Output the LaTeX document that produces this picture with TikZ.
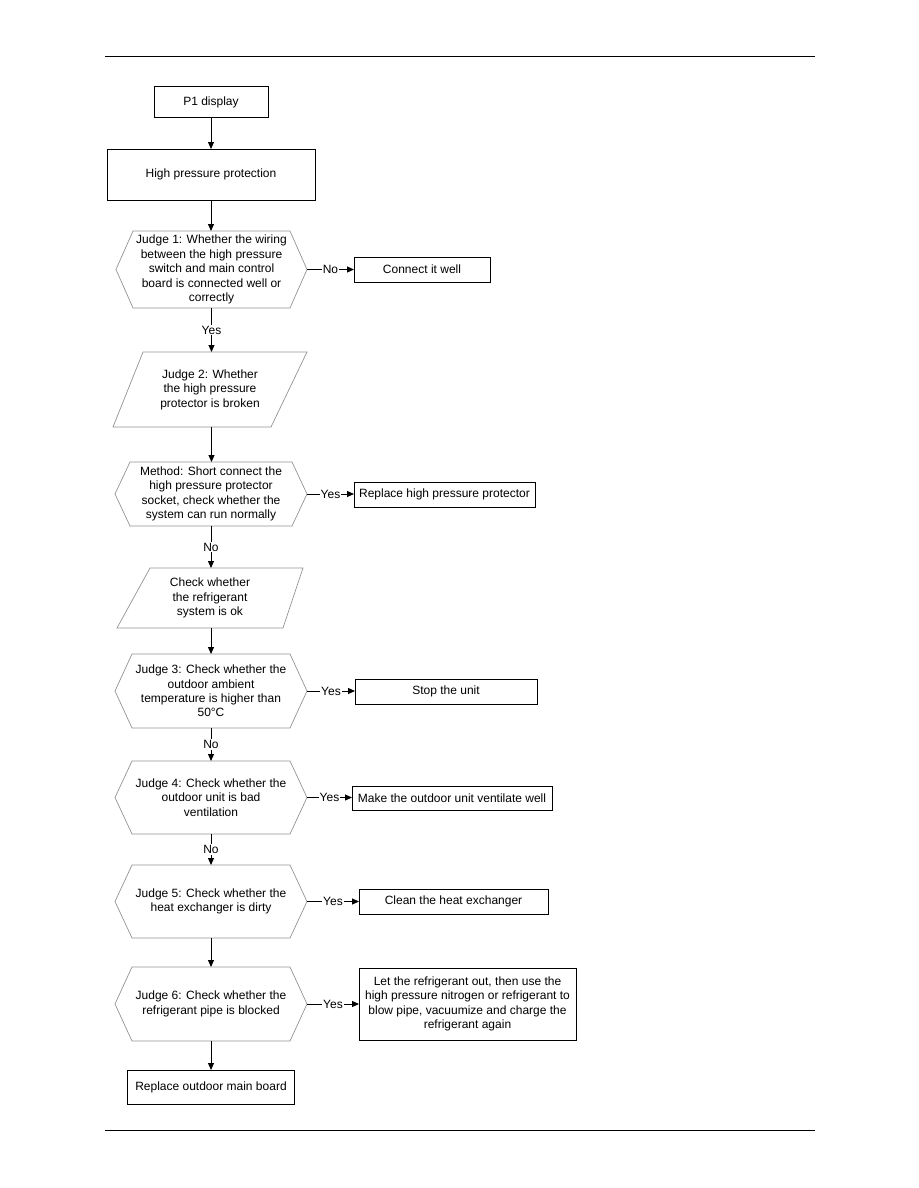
\documentclass[tikz,border=0pt]{standalone}
\usepackage{fontspec}
\setmainfont{Liberation Sans}
\usepackage{tikz}
\usetikzlibrary{positioning,arrows.meta,calc}

\begin{document}
\begin{tikzpicture}[x=1pt,y=-1pt,
  boite/.style={draw=black,line width=1pt,outer sep=0pt,inner sep=2pt,align=center,font=\fontsize{12}{14.4}\selectfont},
  forme/.style={outer sep=0pt,inner sep=0pt,align=center,font=\fontsize{12}{14.4}\selectfont},
  contour/.style={draw=gray!85,line width=0.7pt},
  fl/.style={-{Triangle[length=7pt,width=6pt]},line width=1pt},
  rep/.style={fill=white,inner sep=1pt,font=\fontsize{12}{14.4}\selectfont}
]
\useasboundingbox (0,0) rectangle (918,1188);
% filets de page
\draw[line width=1pt] (105,57) -- (815,57);
\draw[line width=1pt] (105,1130) -- (815,1130);
% colonne principale
\node[boite,minimum width=114,minimum height=31] (p1) at (211,102.5) {P1 display};
\node[boite,minimum width=208,minimum height=51] (hp) at (211,174.5) {High pressure protection};
\node[forme,minimum width=191,minimum height=77] (j1) at (211.5,269.5) {Judge 1: Whether the wiring\\between the high pressure\\switch and main control\\board is connected well or\\correctly};
\node[forme,minimum width=194,minimum height=75] (j2) at (210,389.5) {Judge 2: Whether\\the high pressure\\protector is broken};
\node[forme,minimum width=192,minimum height=64] (mt) at (211,494) {Method: Short connect the\\high pressure protector\\socket, check whether the\\system can run normally};
\node[forme,minimum width=186,minimum height=60] (ck) at (210,598) {Check whether\\the refrigerant\\system is ok};
\node[forme,minimum width=192,minimum height=74] (j3) at (211,691) {Judge 3: Check whether the\\outdoor ambient\\temperature is higher than\\50°C};
\node[forme,minimum width=192,minimum height=73] (j4) at (211,797.5) {Judge 4: Check whether the\\outdoor unit is bad\\ventilation};
\node[forme,minimum width=192,minimum height=73] (j5) at (211,901.5) {Judge 5: Check whether the\\heat exchanger is dirty};
\node[forme,minimum width=192,minimum height=74] (j6) at (211,1004) {Judge 6: Check whether the\\refrigerant pipe is blocked};
\node[boite,minimum width=167,minimum height=34] (rb) at (211,1087) {Replace outdoor main board};
% actions a droite
\node[boite,minimum width=136,minimum height=25] (cw) at (422,269.5) {Connect it well};
\node[boite,minimum width=181,minimum height=25] (rp) at (444.5,494.5) {Replace high pressure protector};
\node[boite,minimum width=182,minimum height=25] (su) at (446,691.5) {Stop the unit};
\node[boite,minimum width=200,minimum height=24] (mo) at (452,798) {Make the outdoor unit ventilate well};
\node[boite,minimum width=189,minimum height=25] (cl) at (453.5,901.5) {Clean the heat exchanger};
\node[boite,minimum width=217,minimum height=72] (lr) at (467.5,1004) {Let the refrigerant out, then use the\\high pressure nitrogen or refrigerant to\\blow pipe, vacuumize and charge the\\refrigerant again};
% contours hexagones et parallelogrammes
\foreach \n/\d in {j1/17,mt/15,j3/17,j4/17,j5/17,j6/17}
  \draw[contour] (\n.west) -- ($(\n.north west)+(\d,0)$) -- ($(\n.north east)+(-\d,0)$) -- (\n.east)
    -- ($(\n.south east)+(-\d,0)$) -- ($(\n.south west)+(\d,0)$) -- cycle;
\foreach \n/\a/\b in {j2/30/36,ck/33/20}
  \draw[contour] (\n.south west) -- ($(\n.north west)+(\a,0)$) -- (\n.north east) -- ($(\n.south east)+(-\b,0)$) -- cycle;
% fleches verticales
\draw[fl] (p1.south) -- (p1.south |- hp.north);
\draw[fl] (hp.south) -- (hp.south |- j1.north);
\draw[fl] (j1.south) -- node[rep]{Yes} (j1.south |- j2.north);
\draw[fl] (j1.south |- j2.south) -- (j1.south |- mt.north);
\draw[fl] (mt.south) -- node[rep]{No} (mt.south |- ck.north);
\draw[fl] (mt.south |- ck.south) -- (mt.south |- j3.north);
\draw[fl] (j3.south) -- node[rep]{No} (j4.north);
\draw[fl] (j4.south) -- node[rep]{No} (j5.north);
\draw[fl] (j5.south) -- (j6.north);
\draw[fl] (j6.south) -- (rb.north);
% fleches horizontales
\draw[fl] (j1.east) -- node[rep]{No} (j1.east -| cw.west);
\draw[fl] (mt.east) -- node[rep]{Yes} (mt.east -| rp.west);
\draw[fl] (j3.east) -- node[rep]{Yes} (j3.east -| su.west);
\draw[fl] (j4.east) -- node[rep]{Yes} (j4.east -| mo.west);
\draw[fl] (j5.east) -- node[rep]{Yes} (j5.east -| cl.west);
\draw[fl] (j6.east) -- node[rep]{Yes} (j6.east -| lr.west);
\end{tikzpicture}
\end{document}
